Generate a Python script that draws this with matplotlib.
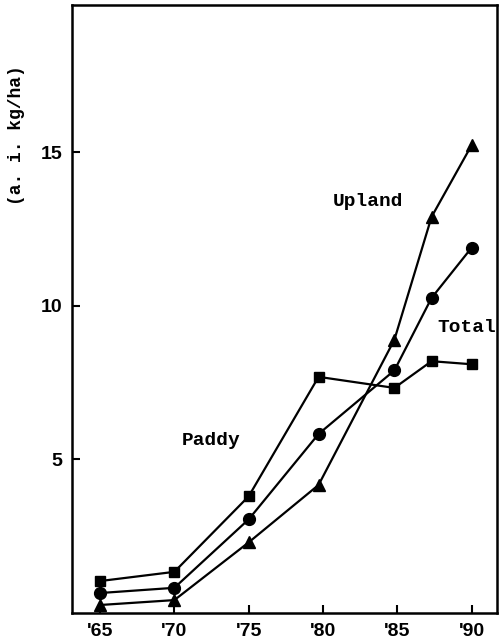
import matplotlib
matplotlib.use("Agg")
import matplotlib.pyplot as plt

years = [1965, 1970, 1975, 1979.7, 1984.8, 1987.3, 1990]
upland = [0.26, 0.42, 2.3, 4.17, 8.9, 12.9, 15.24]
total = [0.65, 0.82, 3.05, 5.83, 7.9, 10.26, 11.9]
paddy = [1.04, 1.34, 3.8, 7.69, 7.33, 8.2, 8.1]

tick_years = [1965, 1970, 1975, 1980, 1985, 1990]
tick_labels = ["'65", "'70", "'75", "'80", "'85", "'90"]
y_ticks = [5, 10, 15]

fig = plt.figure(figsize=(5.02, 6.41), dpi=100)
ax = fig.add_axes([0.143, 0.0437, 0.847, 0.9485])

ax.plot(years, upland, color='black', lw=1.6, marker='^', markersize=8.5)
ax.plot(years, total, color='black', lw=1.6, marker='o', markersize=8.5)
ax.plot(years, paddy, color='black', lw=1.6, marker='s', markersize=7.5)

ax.set_xlim(1963.1, 1991.7)
ax.set_ylim(0, 19.8)

ax.set_xticks(tick_years)
ax.set_xticklabels(tick_labels)
ax.set_yticks(y_ticks)
ax.tick_params(direction='in', length=6, width=1.5, pad=7)
for lab in ax.get_xticklabels() + ax.get_yticklabels():
    lab.set_fontfamily('Liberation Sans')
    lab.set_fontweight('bold')
    lab.set_fontsize(14)

for s in ax.spines.values():
    s.set_linewidth(1.8)

lab_font = dict(family='Liberation Mono', weight='bold', fontsize=14, ha='center', va='center')
ax.text(1983.0, 13.39, 'Upland', **lab_font)
ax.text(1972.5, 5.63, 'Paddy', **lab_font)
ax.text(1989.7, 9.3, 'Total', **lab_font)

ax.text(-0.13, 0.786, '(a. i. kg/ha)', transform=ax.transAxes, rotation=90,
        family='Liberation Mono', weight='bold', fontsize=13, ha='center', va='center')

fig.savefig('out.png', dpi=100)
